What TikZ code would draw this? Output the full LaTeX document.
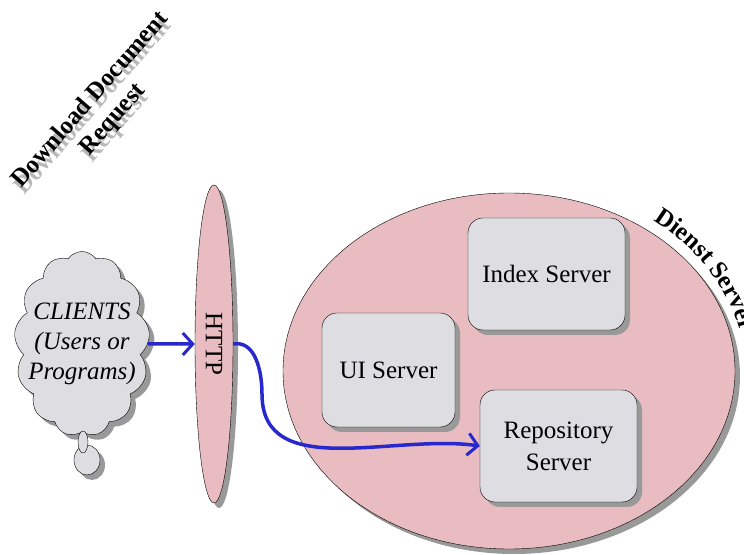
\documentclass[tikz,border=0pt]{standalone}
\usepackage{fontspec}
\setmainfont{Liberation Serif}
\usetikzlibrary{shapes.geometric,shapes.symbols,shadows,arrows.meta,decorations.text}

\definecolor{rosefill}{RGB}{232,188,192}
\definecolor{marble}{RGB}{222,222,226}
\definecolor{flowblue}{RGB}{40,40,205}

\begin{document}
\begin{tikzpicture}[x=1pt, y=1pt,
    bigfont/.style={font=\fontsize{25}{30}\selectfont},
    boldfont/.style={font=\fontsize{25}{30}\selectfont\bfseries},
    slantfont/.style={font=\fontsize{25}{30}\selectfont\itshape},
    shade/.style={drop shadow={shadow xshift=5pt, shadow yshift=-5pt, fill=gray!80, opacity=1}},
    serverbox/.style={draw, thin, rounded corners=15pt, fill=marble, shade, bigfont, align=center, inner sep=0pt},
    flow/.style={draw=flowblue, line width=3.5pt, -{Straight Barb[length=10pt, width=22pt, line width=3pt]}}]
  \useasboundingbox (0, 0) rectangle (744, 554);

  % title with its gray echo
  \node [boldfont, text=gray!55, rotate=49, align=center] (titleecho) at (105, 437) {Download Document\\Request};
  \node [boldfont, rotate=49, align=center] (title) at (102, 444) {Download Document\\Request};

  % the server
  \node [ellipse, draw, thin, fill=rosefill, shade, minimum width=452, minimum height=356] (dienst) at (509, 183) {};
  \path [decorate, decoration={text along path, text align=center,
      text={|\fontsize{25}{30}\selectfont\bfseries|Dienst Server}}]
    (509, 183) ++(64:236 and 190) arc [start angle=64, end angle=-2, x radius=236, y radius=190];

  \node [serverbox, minimum width=157, minimum height=112] (index) at (546.5, 280) {Index Server};
  \node [serverbox, minimum width=133, minimum height=114] (ui) at (388.5, 184) {UI Server};
  \node [serverbox, minimum width=157, minimum height=112] (repo) at (558.5, 108) {Repository\\[2pt]Server};

  % clients
  \node [cloud, cloud puffs=13, cloud puff arc=110, aspect=0.7, draw, thin, fill=marble, shade,
         minimum width=131, minimum height=185, slantfont, align=center, inner sep=-12pt] (clients) at (82, 210)
    {CLIENTS\\(Users or\\Programs)};
  \node [ellipse, draw, thin, fill=marble, shade, minimum width=26, minimum height=30] (bubble) at (87, 94) {};
  \node [ellipse, draw, thin, fill=marble, minimum width=10, minimum height=22] (bubbletop) at (83, 112) {};

  % protocol
  \node [ellipse, draw, thin, fill=rosefill, shade, minimum width=38, minimum height=318] (http) at (214, 210) {};
  \node [bigfont, rotate=-90] (httplabel) at (http) {HTTP};

  \coordinate (bend) at (262, 160);
  \draw [flow] (clients.east) -- (http.west);
  \draw [flow] (http.east) to [out=10, in=90] (bend) to [out=-90, in=172] (repo.west);
\end{tikzpicture}
\end{document}
